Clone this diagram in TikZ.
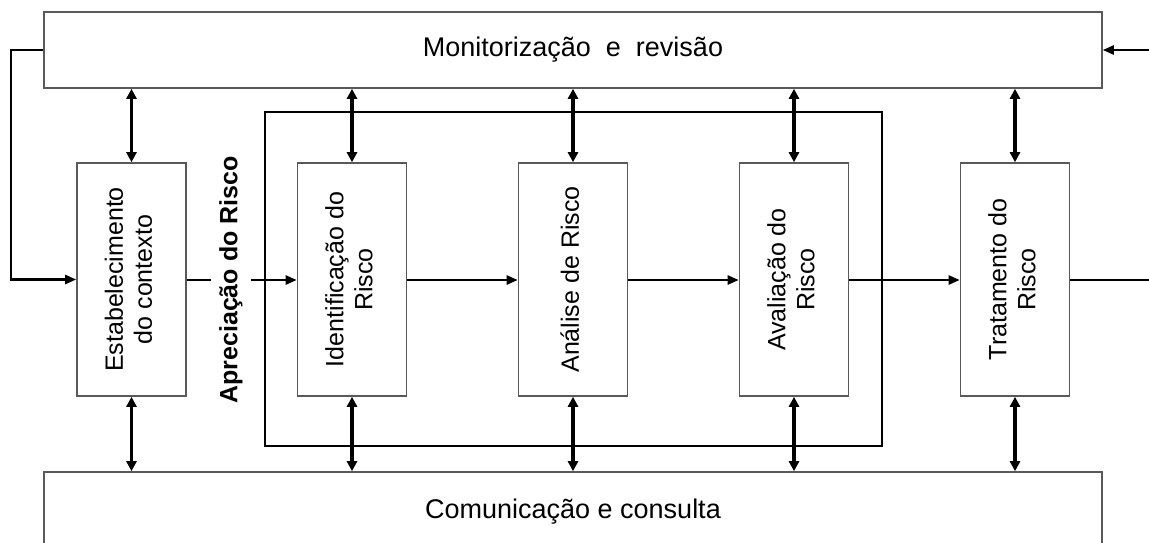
\documentclass[tikz,border=0pt]{standalone}
\usepackage{fontspec}
\setmainfont{Liberation Sans}
\usetikzlibrary{arrows.meta}

\newcommand{\uptext}[1]{\rotatebox{90}{\begin{tabular}{@{}c@{}}#1\end{tabular}}}

\begin{document}
\begin{tikzpicture}[x=1pt, y=-1pt, thick]
    \tikzstyle{box}=[rectangle, draw=black!65, line width=1.6pt, inner sep=2pt, align=center, font=\fontsize{25}{29}\selectfont]
    \tikzstyle{stepbox}=[box, minimum width=109pt, minimum height=233pt]
    \tikzstyle{widebox}=[box, minimum width=1058pt, minimum height=76pt, font=\fontsize{27}{31}\selectfont]
    \tikzstyle{flow}=[line width=2.4pt, -{Triangle[length=11pt, width=9pt]}]
    \tikzstyle{link}=[line width=3.2pt, {Triangle[length=10pt, width=10pt]}-{Triangle[length=10pt, width=10pt]}]

    \path[use as bounding box, clip] (0, 0) rectangle (1149, 542);

    \node[widebox] (mon) at (573, 50) {Monitorização\ \ e\ \ revisão};
    \node[widebox, minimum height=80pt] (com) at (573, 512) {Comunicação e consulta};

    \node[rectangle, draw, line width=2.8pt, minimum width=617pt, minimum height=334pt] (apre) at (573.5, 279) {};

    \node[stepbox] (estab) at (131.5, 279.5) {\uptext{Estabelecimento\\do contexto}};
    \node[stepbox] (ident) at (352, 279.5) {\uptext{Identificação do\\Risco}};
    \node[stepbox] (anal) at (573, 279.5) {\uptext{Análise de Risco}};
    \node[stepbox] (aval) at (794, 279.5) {\uptext{Avaliação do\\Risco}};
    \node[stepbox] (trat) at (1015, 279.5) {\uptext{Tratamento do\\Risco}};

    \coordinate (inR) at (1149, 50);
    \coordinate (outR) at (1149, 280);

    % feedback loop on the left
    \draw[flow] (mon.west) -- ++(-32, 0) |- (estab.west);
    \draw[flow] (inR) -- (mon.east);

    \draw[flow] (estab.east |- 0, 280) -- (ident.west |- 0, 280);
    \node[fill=white, inner xsep=8pt, inner ysep=0pt, font=\fontsize{25}{29}\selectfont\bfseries] (apretitle) at (231, 280) {\rotatebox{90}{Apreciação do Risco}};

    \draw[flow] (ident.east |- 0, 280) -- (anal.west |- 0, 280);
    \draw[flow] (anal.east |- 0, 280) -- (aval.west |- 0, 280);
    \draw[flow] (aval.east |- 0, 280) -- (trat.west |- 0, 280);
    \draw[line width=2.4pt] (trat.east |- 0, 280) -- (outR);

    \foreach \n in {estab, ident, anal, aval, trat} {
        \draw[link] (\n.north) -- (\n.north |- mon.south);
        \draw[link] (\n.south) -- (\n.south |- com.north);
    }
\end{tikzpicture}
\end{document}
